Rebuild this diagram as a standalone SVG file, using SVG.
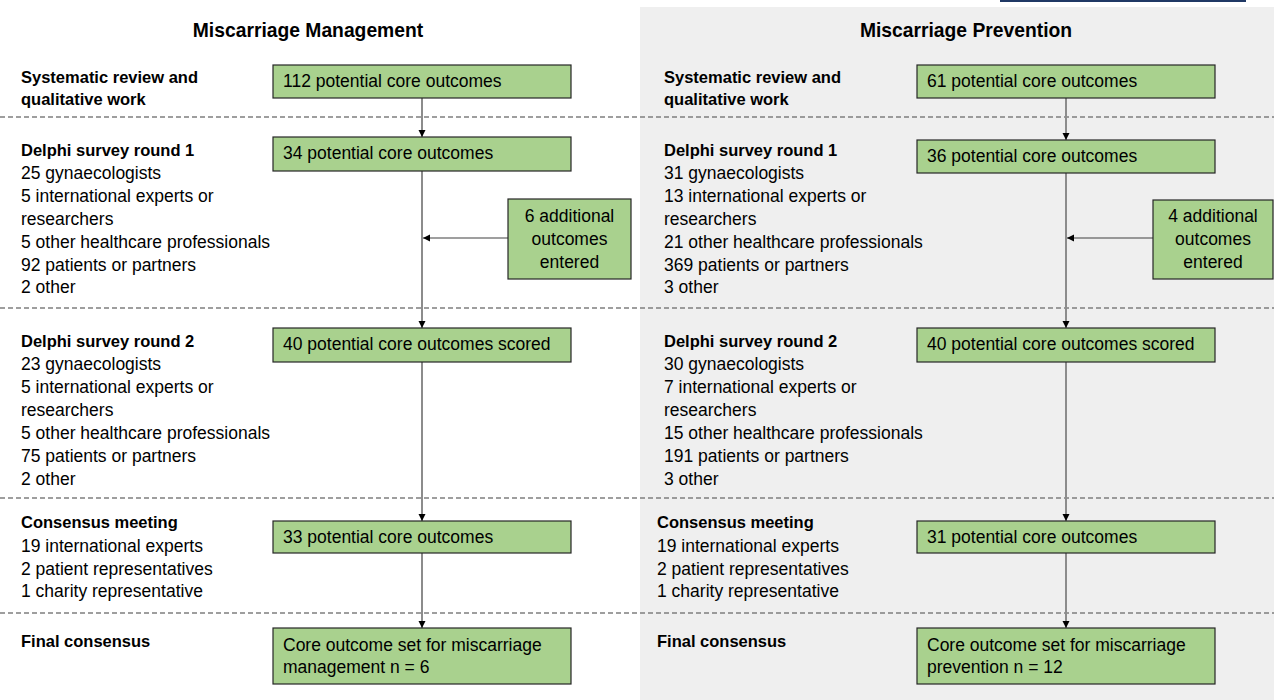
<svg xmlns="http://www.w3.org/2000/svg" width="1274" height="700" viewBox="0 0 1274 700">
<defs>
<marker id="ah" markerUnits="userSpaceOnUse" markerWidth="8" markerHeight="8" refX="7" refY="4" orient="auto">
<path d="M0,0.5 L7,4 L0,7.5 Z" fill="#000"/>
</marker>
<style>
.bg{fill:#fff}
.panel{fill:#efefef}
.box{fill:#a9d18e;stroke:#262626;stroke-width:1.2}
.t{font-family:"Liberation Sans",Arial,sans-serif;font-size:17.5px;fill:#000}
.b{font-family:"Liberation Sans",Arial,sans-serif;font-size:16.5px;font-weight:bold;fill:#000}
.h{font-family:"Liberation Sans",Arial,sans-serif;font-size:19.3px;font-weight:bold;fill:#000}
.c{text-anchor:middle}
.dash{stroke:#7f7f7f;stroke-width:1.3;stroke-dasharray:5,3;fill:none}
.v{stroke:#8c8c8c;stroke-width:2;fill:none}
.hz{stroke:#404040;stroke-width:1.2;fill:none}
</style>
</defs>
<rect class="bg" x="0" y="0" width="1274" height="700"/>
<rect class="panel" x="640" y="7" width="634" height="693"/>
<line x1="1000" y1="1" x2="1246" y2="1" stroke="#1f3864" stroke-width="2"/>

<g id="titles">
<text class="h c" x="308" y="37">Miscarriage Management</text>
<text class="h c" x="966" y="37">Miscarriage Prevention</text>
</g>

<g id="separators">
<line class="dash" x1="0" y1="117" x2="1274" y2="117"/>
<line class="dash" x1="0" y1="308" x2="1274" y2="308"/>
<line class="dash" x1="0" y1="498" x2="1274" y2="498"/>
<line class="dash" x1="0" y1="613" x2="1274" y2="613"/>
</g>

<g id="labels-left">
<text class="b" x="21" y="83">Systematic review and</text>
<text class="b" x="21" y="105">qualitative work</text>
<text class="b" x="21" y="156">Delphi survey round 1</text>
<text class="t" x="21" y="179">25 gynaecologists</text>
<text class="t" x="21" y="202">5 international experts or</text>
<text class="t" x="21" y="225">researchers</text>
<text class="t" x="21" y="248">5 other healthcare professionals</text>
<text class="t" x="21" y="271">92 patients or partners</text>
<text class="t" x="21" y="293">2 other</text>
<text class="b" x="21" y="347">Delphi survey round 2</text>
<text class="t" x="21" y="370">23 gynaecologists</text>
<text class="t" x="21" y="393">5 international experts or</text>
<text class="t" x="21" y="416">researchers</text>
<text class="t" x="21" y="439">5 other healthcare professionals</text>
<text class="t" x="21" y="462">75 patients or partners</text>
<text class="t" x="21" y="485">2 other</text>
<text class="b" x="21" y="528">Consensus meeting</text>
<text class="t" x="21" y="552">19 international experts</text>
<text class="t" x="21" y="575">2 patient representatives</text>
<text class="t" x="21" y="597">1 charity representative</text>
<text class="b" x="21" y="647">Final consensus</text>
</g>

<g id="labels-right">
<text class="b" x="664" y="83">Systematic review and</text>
<text class="b" x="664" y="105">qualitative work</text>
<text class="b" x="664" y="156">Delphi survey round 1</text>
<text class="t" x="664" y="179">31 gynaecologists</text>
<text class="t" x="664" y="202">13 international experts or</text>
<text class="t" x="664" y="225">researchers</text>
<text class="t" x="664" y="248">21 other healthcare professionals</text>
<text class="t" x="664" y="271">369 patients or partners</text>
<text class="t" x="664" y="293">3 other</text>
<text class="b" x="664" y="347">Delphi survey round 2</text>
<text class="t" x="664" y="370">30 gynaecologists</text>
<text class="t" x="664" y="393">7 international experts or</text>
<text class="t" x="664" y="416">researchers</text>
<text class="t" x="664" y="439">15 other healthcare professionals</text>
<text class="t" x="664" y="462">191 patients or partners</text>
<text class="t" x="664" y="485">3 other</text>
<text class="b" x="657" y="528">Consensus meeting</text>
<text class="t" x="657" y="552">19 international experts</text>
<text class="t" x="657" y="575">2 patient representatives</text>
<text class="t" x="657" y="597">1 charity representative</text>
<text class="b" x="657" y="647">Final consensus</text>
</g>

<g id="connectors">
<line class="v" x1="422" y1="98" x2="422" y2="137" marker-end="url(#ah)"/>
<line class="v" x1="422" y1="171" x2="422" y2="328" marker-end="url(#ah)"/>
<line class="v" x1="422" y1="362" x2="422" y2="521" marker-end="url(#ah)"/>
<line class="v" x1="422" y1="553" x2="422" y2="628" marker-end="url(#ah)"/>
<line class="hz" x1="508" y1="238" x2="423" y2="238" marker-end="url(#ah)"/>
<line class="v" x1="1066" y1="98" x2="1066" y2="140" marker-end="url(#ah)"/>
<line class="v" x1="1066" y1="173" x2="1066" y2="328" marker-end="url(#ah)"/>
<line class="v" x1="1066" y1="362" x2="1066" y2="521" marker-end="url(#ah)"/>
<line class="v" x1="1066" y1="553" x2="1066" y2="628" marker-end="url(#ah)"/>
<line class="hz" x1="1153" y1="238" x2="1067" y2="238" marker-end="url(#ah)"/>
</g>

<g id="m1"><rect class="box" x="273" y="65" width="298" height="33"/><text class="t" x="283" y="87">112 potential core outcomes</text></g>
<g id="m2"><rect class="box" x="273" y="137" width="298" height="34"/><text class="t" x="283" y="159">34 potential core outcomes</text></g>
<g id="m-add"><rect class="box" x="508" y="199" width="123" height="80"/><text class="t c" x="569.5" y="222">6 additional</text><text class="t c" x="569.5" y="245">outcomes</text><text class="t c" x="569.5" y="268">entered</text></g>
<g id="m3"><rect class="box" x="273" y="328" width="298" height="34"/><text class="t" x="283" y="350">40 potential core outcomes scored</text></g>
<g id="m4"><rect class="box" x="273" y="521" width="298" height="32"/><text class="t" x="283" y="543">33 potential core outcomes</text></g>
<g id="m5"><rect class="box" x="273" y="628" width="298" height="56"/><text class="t" x="283" y="651">Core outcome set for miscarriage</text><text class="t" x="283" y="673">management n = 6</text></g>

<g id="p1"><rect class="box" x="917" y="65" width="298" height="33"/><text class="t" x="927" y="87">61 potential core outcomes</text></g>
<g id="p2"><rect class="box" x="917" y="140" width="298" height="33"/><text class="t" x="927" y="162">36 potential core outcomes</text></g>
<g id="p-add"><rect class="box" x="1153" y="200" width="120" height="79"/><text class="t c" x="1213" y="222">4 additional</text><text class="t c" x="1213" y="245">outcomes</text><text class="t c" x="1213" y="268">entered</text></g>
<g id="p3"><rect class="box" x="917" y="328" width="298" height="34"/><text class="t" x="927" y="350">40 potential core outcomes scored</text></g>
<g id="p4"><rect class="box" x="917" y="521" width="298" height="32"/><text class="t" x="927" y="543">31 potential core outcomes</text></g>
<g id="p5"><rect class="box" x="917" y="628" width="298" height="56"/><text class="t" x="927" y="651">Core outcome set for miscarriage</text><text class="t" x="927" y="673">prevention n = 12</text></g>
</svg>
